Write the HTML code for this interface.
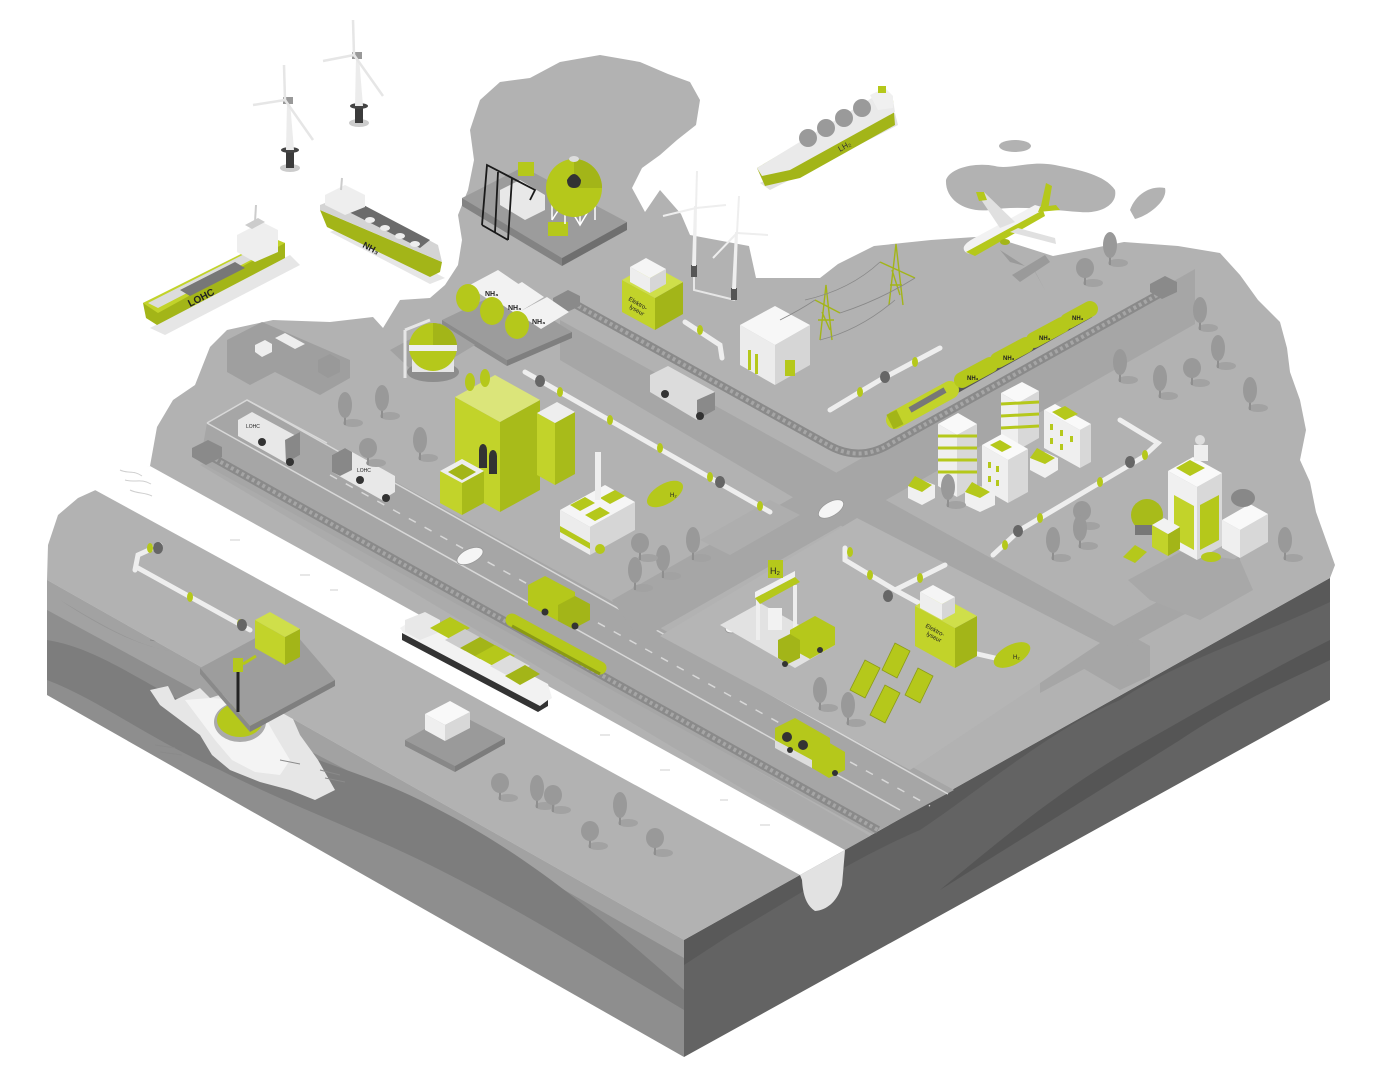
<!DOCTYPE html>
<html><head><meta charset="utf-8"><style>
html,body{margin:0;padding:0;background:#fff;}
svg{display:block;font-family:"Liberation Sans",sans-serif;}
</style></head><body>
<svg width="1384" height="1077" viewBox="0 0 1384 1077" xmlns="http://www.w3.org/2000/svg">
<defs>
<symbol id="tr" overflow="visible">
<ellipse cx="8" cy="-2" rx="10" ry="4" fill="#a2a2a2"/>
<line x1="0" y1="0" x2="0" y2="-10" stroke="#8f8f8f" stroke-width="2"/>
<ellipse cx="0" cy="-20" rx="7" ry="13" fill="#999"/>
</symbol>
<symbol id="tr2" overflow="visible">
<ellipse cx="8" cy="-2" rx="10" ry="4" fill="#a2a2a2"/>
<line x1="0" y1="0" x2="0" y2="-8" stroke="#8f8f8f" stroke-width="2"/>
<ellipse cx="0" cy="-17" rx="9" ry="10" fill="#999"/>
</symbol>
<symbol id="ring" overflow="visible"><ellipse cx="0" cy="0" rx="3" ry="5" fill="#b5c81b"/></symbol>
</defs>

<!-- left face -->
<polygon points="47,580 684,940 684,1057 47,695" fill="#8e8e8e"/>
<polygon points="47,580 684,940 684,958 420,808 250,720 47,610" fill="#a2a2a2"/>
<path d="M47,640 C110,650 160,700 230,720 C300,760 360,770 420,800 C500,840 560,880 684,990 L684,1010 C600,960 520,910 440,870 C360,830 300,810 220,770 C150,740 100,700 47,680Z" fill="#7d7d7d"/>
<path d="M60,600 C120,640 170,660 210,650 C240,660 270,690 330,700 C400,720 500,790 560,820 L560,810 C480,770 420,740 340,710 C290,700 250,670 200,650 C160,660 110,630 60,600Z" fill="#969696"/>
<!-- cavity -->
<polygon points="150,690 168,686 175,700 200,688 210,698 235,690 262,700 290,712 300,735 318,760 335,790 315,800 290,790 260,782 230,770 212,755 200,735 180,720 160,705" fill="#e6e6e6"/>
<polygon points="185,700 210,698 240,700 262,712 275,735 290,760 280,775 255,772 232,760 215,740 200,720" fill="#f4f4f4"/>
<ellipse cx="240" cy="722" rx="26" ry="20" fill="#aaaaaa"/>
<ellipse cx="240" cy="720" rx="23" ry="17" fill="#b5c81b"/>
<g stroke="#8a8a8a" stroke-width="1">
<line x1="155" y1="745" x2="175" y2="748"/><line x1="160" y1="752" x2="182" y2="755"/><line x1="320" y1="770" x2="340" y2="775"/><line x1="325" y1="778" x2="345" y2="782"/><line x1="150" y1="640" x2="170" y2="643"/><line x1="280" y1="760" x2="300" y2="764"/>
</g>

<!-- right face -->
<polygon points="684,940 1330,578 1330,700 684,1057" fill="#636363"/>
<path d="M684,940 L1330,578 L1330,602 C1250,640 1180,660 1120,700 C1050,730 980,790 920,830 C850,860 790,900 730,935 L684,965Z" fill="#595959"/>
<path d="M940,890 C1020,840 1100,790 1180,740 C1240,700 1290,680 1330,660 L1330,640 C1270,670 1200,710 1130,750 C1060,790 1000,840 940,890Z" fill="#555"/>

<!-- top surface land -->
<polygon fill="#b2b2b2" points="47,580 48,545 58,515 78,498 100,488 120,478 150,466 157,427 173,400 195,385 210,347 227,330 273,320 330,322 373,317 383,328 400,300 430,298 445,285 458,265 462,240 458,215 468,190 474,160 470,130 480,100 500,82 530,78 560,62 600,55 640,62 668,74 690,82 700,100 696,125 677,140 660,155 642,168 632,188 645,212 660,190 681,214 690,235 749,246 756,278 820,278 838,264 874,246 931,240 990,236 1053,256 1089,249 1124,242 1178,246 1220,253 1240,275 1258,300 1280,322 1287,348 1290,372 1300,400 1306,430 1300,460 1310,482 1316,512 1326,540 1335,565 1330,578 684,940"/>
<!-- islands -->
<path d="M946,180 C950,168 975,162 995,166 C1010,170 1030,160 1055,165 C1080,170 1105,175 1115,190 C1118,205 1100,214 1080,212 C1050,210 1020,205 990,210 C965,213 945,200 946,180Z" fill="#b2b2b2"/>
<path d="M1130,210 C1135,195 1150,185 1165,188 C1168,200 1150,215 1135,219Z" fill="#b2b2b2"/>
<ellipse cx="1015" cy="146" rx="16" ry="6" fill="#b2b2b2"/>

<!-- river -->
<polygon points="95,490 105,478 150,466 845,850 800,875" fill="#fff"/>
<path d="M800,875 L845,850 L842,885 C838,900 828,910 815,911 C806,905 803,895 802,880Z" fill="#e2e2e2"/>
<g stroke="#cfcfcf" stroke-width="1" fill="none">
<path d="M120,470 c8,4 14,0 22,6 M125,480 c10,3 16,-2 26,4 M130,490 c8,4 14,2 22,6"/>
<path d="M300,575 h10 M330,590 h8 M420,640 h10 M600,735 h10 M660,770 h10 M720,800 h8 M760,825 h10 M230,540 h10"/>
</g>

<!-- strip between rail and river -->
<polygon points="200,465 845,850 870,836 215,458" fill="#ababab"/>
<!-- main road -->
<polygon points="207,423 247,400 954,790 872,834 200,462" fill="#a6a6a6"/>
<g stroke="#d8d8d8" stroke-width="1.5" fill="none">
<line x1="247" y1="400" x2="948" y2="794"/>
<line x1="207" y1="423" x2="900" y2="810"/>
<line x1="330" y1="475" x2="930" y2="806" stroke-dasharray="8 10"/>
<polyline points="207,423 247,400 327,443"/>
</g>
<!-- rail -->
<line x1="210" y1="456" x2="878" y2="830" stroke="#8a8a8a" stroke-width="8"/>
<line x1="210" y1="456" x2="878" y2="830" stroke="#a6a6a6" stroke-width="4" stroke-dasharray="3 3"/>
<polygon points="192,448 208,440 222,447 222,457 206,465 192,457" fill="#8a8a8a"/>

<!-- u-road 2 -->
<polygon points="560,320 1150,646 1150,676 1120,690 560,360" fill="#a6a6a6"/>
<!-- v-road -->
<polygon points="612,600 1195,269 1195,324 640,640" fill="#a6a6a6"/>
<polygon points="1040,667 1240,556 1240,584 1040,693" fill="#a6a6a6"/>
<polygon points="1128,580 1180,552 1240,560 1253,590 1200,620 1150,600" fill="#a8a8a8"/>
<!-- parcel highlights -->
<polygon points="857,518 1100,643 910,770 660,636" fill="#b5b5b5"/>
<polygon points="227,340 262,322 350,360 350,378 320,395 275,372 250,385 227,372" fill="#9f9f9f"/>
<polygon points="442,320 505,290 572,332 507,360" fill="#9c9c9c"/>
<polygon points="442,320 507,360 507,366 442,326" fill="#8a8a8a"/>
<polygon points="507,360 572,332 572,338 507,366" fill="#7f7f7f"/>
<polygon points="390,350 440,323 475,345 420,378" fill="#a2a2a2"/>
<polygon points="700,540 770,500 800,515 730,555" fill="#aeaeae"/>

<!-- upper rail -->
<path d="M573,303 L830,446 Q860,462 890,444 L1170,288" stroke="#8a8a8a" stroke-width="8" fill="none"/>
<path d="M573,303 L830,446 Q860,462 890,444 L1170,288" stroke="#a6a6a6" stroke-width="4" fill="none" stroke-dasharray="3 3"/>
<polygon points="553,298 568,290 580,296 580,306 565,313 553,306" fill="#8a8a8a"/>
<polygon points="1150,284 1165,276 1177,282 1177,292 1162,299 1150,292" fill="#8a8a8a"/>

<!-- port platform -->
<polygon points="462,198 523,167 627,222 562,258" fill="#9c9c9c"/>
<polygon points="462,198 562,258 562,266 462,206" fill="#838383"/>
<polygon points="562,258 627,222 627,230 562,266" fill="#6f6f6f"/>
<polygon points="500,190 520,180 545,195 545,210 525,220 500,205" fill="#e8e8e8"/>
<g stroke="#1a1a1a" stroke-width="1.8" fill="none">
<path d="M482,225 L487,165 L512,178 L508,240 M487,165 L535,190 L530,200 M498,172 L495,232 M482,225 L508,240"/>
</g>
<rect x="518" y="162" width="16" height="14" fill="#b5c81b"/>
<rect x="548" y="222" width="20" height="14" fill="#b5c81b"/>
<g stroke="#fff" stroke-width="1.5"><line x1="552" y1="220" x2="552" y2="200"/><line x1="565" y1="224" x2="565" y2="204"/><line x1="580" y1="225" x2="580" y2="205"/><line x1="595" y1="220" x2="595" y2="200"/><path d="M552,220 L565,200 L580,225 L595,200" fill="none"/></g>
<ellipse cx="574" cy="188" rx="28" ry="29" fill="#b5c81b"/>
<path d="M574,159 A28,29 0 0 1 602,188 L574,188Z" fill="#a3b518"/>
<ellipse cx="574" cy="159" rx="5" ry="3" fill="#ddd"/>
<path d="M567,180 q7,-12 14,0 q0,8 -7,8 q-7,0 -7,-8z" fill="#333"/>

<!-- offshore turbines -->
<g>
<ellipse cx="290" cy="168" rx="10" ry="4" fill="#ccc"/>
<rect x="286" y="150" width="8" height="18" fill="#3b3b3b"/>
<ellipse cx="290" cy="150" rx="9" ry="3" fill="#444"/>
<polygon points="286,150 294,150 290,102 287,102" fill="#ececec"/>
<rect x="283" y="97" width="10" height="7" fill="#999"/>
<line x1="285" y1="100" x2="284" y2="65" stroke="#e6e6e6" stroke-width="2.5"/>
<line x1="285" y1="100" x2="253" y2="105" stroke="#e6e6e6" stroke-width="2.5"/>
<line x1="285" y1="100" x2="313" y2="140" stroke="#e6e6e6" stroke-width="2.5"/>
<ellipse cx="359" cy="123" rx="10" ry="4" fill="#ccc"/>
<rect x="355" y="105" width="8" height="18" fill="#3b3b3b"/>
<ellipse cx="359" cy="106" rx="9" ry="3" fill="#444"/>
<polygon points="355,106 363,106 359,57 356,57" fill="#ececec"/>
<rect x="352" y="52" width="10" height="7" fill="#999"/>
<line x1="354" y1="55" x2="353" y2="20" stroke="#e6e6e6" stroke-width="2.5"/>
<line x1="354" y1="55" x2="323" y2="61" stroke="#e6e6e6" stroke-width="2.5"/>
<line x1="354" y1="55" x2="383" y2="96" stroke="#e6e6e6" stroke-width="2.5"/>
</g>

<!-- LOHC ship -->
<g>
<polygon points="150,328 290,255 300,265 165,335" fill="#e6e6e6"/>
<polygon points="143,303 273,240 285,243 285,258 157,325 146,318" fill="#a3b518"/>
<polygon points="143,303 273,238 285,243 158,313" fill="#c2d32a"/>
<polygon points="148,303 268,242 278,246 158,308" fill="#dcdcdc"/>
<polygon points="180,290 235,262 245,268 190,296" fill="#777"/>
<polygon points="237,235 262,222 278,230 278,252 255,262 237,252" fill="#eee"/>
<polygon points="245,225 258,218 265,222 252,229" fill="#ccc"/>
<line x1="255" y1="222" x2="256" y2="205" stroke="#ccc" stroke-width="2"/>
<text x="190" y="307" font-size="10" font-weight="bold" fill="#222" transform="rotate(-27 190 307)">LOHC</text>
</g>
<!-- NH3 ship -->
<g>
<polygon points="330,232 430,284 445,278 345,226" fill="#e6e6e6"/>
<polygon points="320,210 442,262 440,272 430,277 327,227" fill="#a3b518"/>
<polygon points="320,205 345,195 438,245 442,262 320,210" fill="#d4d4d4"/>
<polygon points="335,205 350,198 430,240 420,248" fill="#6b6b6b"/>
<g fill="#eee"><ellipse cx="370" cy="220" rx="5" ry="3"/><ellipse cx="385" cy="228" rx="5" ry="3"/><ellipse cx="400" cy="236" rx="5" ry="3"/><ellipse cx="415" cy="244" rx="5" ry="3"/></g>
<polygon points="325,195 345,185 365,195 365,207 345,215 325,205" fill="#eee"/>
<line x1="341" y1="190" x2="342" y2="178" stroke="#ccc" stroke-width="2"/>
<text x="362" y="247" font-size="9" font-weight="bold" fill="#222" transform="rotate(27 362 247)">NH₃</text>
</g>
<!-- LH2 ship -->
<g>
<polygon points="760,183 895,113 898,125 770,190" fill="#e2e2e2"/>
<polygon points="757,168 880,95 893,100 895,125 800,178 765,186" fill="#a3b518"/>
<polygon points="757,168 880,93 893,100 895,112 790,170 762,176" fill="#eaeaea"/>
<g fill="#9a9a9a"><circle cx="808" cy="138" r="9"/><circle cx="826" cy="128" r="9"/><circle cx="844" cy="118" r="9"/><circle cx="862" cy="108" r="9"/></g>
<polygon points="870,95 885,88 893,96 893,108 878,110" fill="#f0f0f0"/>
<rect x="878" y="86" width="8" height="7" fill="#b5c81b"/>
<text x="840" y="152" font-size="8" fill="#333" transform="rotate(-30 840 152)">LH₂</text>
</g>

<!-- NH3 tanks -->
<g>
<polygon points="468,286 498,270 520,285 492,302" fill="#f2f2f2"/>
<polygon points="492,298 522,282 544,297 516,314" fill="#f2f2f2"/>
<polygon points="517,313 547,297 569,312 541,329" fill="#f2f2f2"/>
<ellipse cx="468" cy="298" rx="12" ry="14" fill="#b5c81b"/>
<ellipse cx="492" cy="311" rx="12" ry="14" fill="#b5c81b"/>
<ellipse cx="517" cy="325" rx="12" ry="14" fill="#b5c81b"/>
<text x="485" y="296" font-size="7" font-weight="bold" fill="#222">NH₃</text>
<text x="508" y="310" font-size="7" font-weight="bold" fill="#222">NH₃</text>
<text x="532" y="324" font-size="7" font-weight="bold" fill="#222">NH₃</text>
</g>
<!-- sphere tank -->
<g>
<line x1="405" y1="378" x2="405" y2="330" stroke="#e6e6e6" stroke-width="3"/>
<line x1="405" y1="330" x2="430" y2="320" stroke="#e6e6e6" stroke-width="3"/>
<ellipse cx="433" cy="372" rx="26" ry="10" fill="#8d8d8d"/>
<rect x="412" y="350" width="42" height="22" fill="#e6e6e6"/>
<circle cx="433" cy="347" r="24" fill="#b5c81b"/>
<path d="M433,323 A24,24 0 0 1 457,347 L433,347Z" fill="#a3b518"/>
<rect x="409" y="345" width="48" height="6" fill="#eee"/>
</g>

<!-- electrolyser 1 -->
<polygon points="622,312 655,330 655,298 622,280" fill="#c2d32a"/>
<polygon points="655,330 683,314 683,282 655,298" fill="#a3b518"/>
<polygon points="655,298 683,282 650,264 622,280" fill="#cfdf4a"/>
<polygon points="630,282 650,293 650,278 630,267" fill="#eee"/>
<polygon points="650,293 666,284 666,269 650,278" fill="#d6d6d6"/>
<polygon points="630,267 650,278 666,269 646,258" fill="#f5f5f5"/>
<text x="628" y="300" font-size="6" fill="#222" transform="rotate(30 628 300)">Elektro-</text>
<text x="629" y="308" font-size="6" fill="#222" transform="rotate(30 629 308)">lyseur</text>
<!-- land turbines -->
<path d="M694,276 L694,290 L735,300" stroke="#e6e6e6" stroke-width="2" fill="none"/>
<rect x="691" y="265" width="6" height="12" fill="#555"/>
<polygon points="692,266 696,266 697,206 694,206" fill="#efefef"/>
<line x1="696" y1="208" x2="697" y2="171" stroke="#eee" stroke-width="2"/>
<line x1="696" y1="208" x2="663" y2="216" stroke="#eee" stroke-width="2"/>
<line x1="696" y1="208" x2="726" y2="205" stroke="#eee" stroke-width="2"/>
<rect x="731" y="288" width="6" height="12" fill="#555"/>
<polygon points="732,289 736,289 738,232 735,232" fill="#efefef"/>
<line x1="737" y1="233" x2="739" y2="196" stroke="#eee" stroke-width="2"/>
<line x1="737" y1="233" x2="713" y2="258" stroke="#eee" stroke-width="2"/>
<line x1="737" y1="233" x2="768" y2="235" stroke="#eee" stroke-width="2"/>

<!-- white building -->
<polygon points="740,365 775,385 775,345 740,325" fill="#ececec"/>
<polygon points="775,385 810,365 810,325 775,345" fill="#d6d6d6"/>
<polygon points="775,345 810,325 775,306 740,325" fill="#f7f7f7"/>
<rect x="748" y="350" width="3" height="20" fill="#b5c81b"/><rect x="755" y="354" width="3" height="20" fill="#b5c81b"/>
<rect x="785" y="360" width="10" height="16" fill="#b5c81b"/>

<!-- pylons -->
<g stroke="#a3b518" stroke-width="1.4" fill="none">
<path d="M820,340 L826,285 L832,340 M815,300 L840,313 M818,320 L834,320 M822,312 L830,330"/>
<path d="M889,305 L896,244 L903,305 M880,262 L915,278 M890,285 L902,285 M892,270 L900,295"/>
</g>
<g stroke="#888" stroke-width="0.8" fill="none">
<path d="M805,300 Q850,290 880,262 M840,313 Q880,300 915,278 M820,340 Q860,330 895,300 M780,320 Q800,310 815,300"/>
</g>

<!-- plane -->
<g>
<path d="M1012,275 L1045,255 L1050,262 L1020,282 Z M1025,266 L1000,250 L1010,262 Z M1030,262 L1045,290 L1035,272Z" fill="#9a9a9a"/>
<path d="M964,250 C962,245 970,240 980,235 L1035,205 L1045,208 L985,250 C975,255 966,255 964,250Z" fill="#f2f2f2"/>
<path d="M966,252 L1043,210 L1045,216 L975,256Z" fill="#b5c81b"/>
<polygon points="1000,228 976,192 984,192 1015,222" fill="#e0e0e0"/>
<polygon points="976,192 984,192 987,200 979,201" fill="#b5c81b"/>
<polygon points="1010,232 1056,244 1055,238 1018,228" fill="#e0e0e0"/>
<polygon points="1040,210 1046,183 1052,186 1048,210" fill="#b5c81b"/>
<polygon points="1038,212 1060,210 1056,205 1040,207" fill="#b5c81b"/>
<ellipse cx="1005" cy="242" rx="5" ry="3" fill="#a3b518"/>
</g>

<!-- train -->
<g>
<path d="M895,425 L1090,315" stroke="#555" stroke-width="6" stroke-linecap="round"/>
<path d="M895,420 L950,390" stroke="#c2d32a" stroke-width="18" stroke-linecap="round"/>
<path d="M890,422 L900,417" stroke="#a3b518" stroke-width="16"/>
<path d="M910,410 L945,390" stroke="#777" stroke-width="6"/>
<path d="M962,380 L990,365" stroke="#b5c81b" stroke-width="16" stroke-linecap="round"/>
<path d="M998,360 L1026,345" stroke="#b5c81b" stroke-width="16" stroke-linecap="round"/>
<path d="M1034,340 L1062,325" stroke="#b5c81b" stroke-width="16" stroke-linecap="round"/>
<path d="M1068,321 L1090,309" stroke="#b5c81b" stroke-width="16" stroke-linecap="round"/>
<g font-size="6" font-weight="bold" fill="#222"><text x="967" y="380">NH₃</text><text x="1003" y="360">NH₃</text><text x="1039" y="340">NH₃</text><text x="1072" y="320">NH₃</text></g>
</g>

<!-- pipelines -->
<g stroke="#eeeeee" stroke-width="5" fill="none" stroke-linecap="round">
<path d="M525,372 L770,512"/>
<path d="M830,410 L880,380 L940,348"/>
<path d="M993,555 L1020,530 L1143,457 L1158,443 L1120,420"/>
<path d="M845,548 L845,560 L895,590 L945,565 M895,590 L950,620"/>
<path d="M685,322 L720,345 L722,358"/>
<path d="M135,570 L138,555 L160,545 M138,568 L250,630"/>
<path d="M960,650 L995,658"/>
</g>
<g>
<use href="#ring" x="560" y="392"/><use href="#ring" x="610" y="420"/><use href="#ring" x="660" y="448"/><use href="#ring" x="710" y="477"/><use href="#ring" x="760" y="506"/>
<use href="#ring" x="860" y="392"/><use href="#ring" x="915" y="362"/>
<use href="#ring" x="1040" y="518"/><use href="#ring" x="1100" y="482"/><use href="#ring" x="1145" y="455"/><use href="#ring" x="1005" y="545"/>
<use href="#ring" x="870" y="575"/><use href="#ring" x="920" y="578"/><use href="#ring" x="850" y="552"/>
<use href="#ring" x="150" y="548"/><use href="#ring" x="190" y="597"/><use href="#ring" x="240" y="624"/>
<use href="#ring" x="700" y="330"/>
</g>
<g fill="#666"><ellipse cx="540" cy="381" rx="5" ry="6"/><ellipse cx="720" cy="482" rx="5" ry="6"/><ellipse cx="885" cy="377" rx="5" ry="6"/><ellipse cx="1130" cy="462" rx="5" ry="6"/><ellipse cx="1018" cy="531" rx="5" ry="6"/><ellipse cx="888" cy="596" rx="5" ry="6"/><ellipse cx="158" cy="548" rx="5" ry="6"/><ellipse cx="242" cy="625" rx="5" ry="6"/></g>

<!-- big green building -->
<polygon points="455,487 500,512 500,422 455,397" fill="#c2d32a"/>
<polygon points="500,512 540,490 540,400 500,422" fill="#a8bb1a"/>
<polygon points="500,422 540,400 495,375 455,397" fill="#dbe57a"/>
<g fill="#333"><ellipse cx="483" cy="450" rx="4" ry="6"/><ellipse cx="493" cy="456" rx="4" ry="6"/><rect x="479" y="450" width="8" height="18"/><rect x="489" y="456" width="8" height="18"/></g>
<polygon points="537,475 555,485 555,423 537,413" fill="#c2d32a"/>
<polygon points="555,485 575,474 575,412 555,423" fill="#a8bb1a"/>
<polygon points="555,423 575,412 557,402 537,413" fill="#eee"/>
<polygon points="440,503 462,515 462,483 440,471" fill="#c2d32a"/>
<polygon points="462,515 484,503 484,471 462,483" fill="#a8bb1a"/>
<polygon points="462,483 484,471 462,459 440,471" fill="#eee"/>
<polygon points="448,472 462,480 476,472 462,464" fill="#a3b518"/>
<ellipse cx="470" cy="382" rx="5" ry="9" fill="#b5c81b"/><ellipse cx="485" cy="378" rx="5" ry="9" fill="#b5c81b"/>

<!-- factory -->
<polygon points="560,538 590,555 590,527 560,510" fill="#ececec"/>
<polygon points="590,555 635,530 635,502 590,527" fill="#d6d6d6"/>
<polygon points="590,527 635,502 605,485 560,510" fill="#f5f5f5"/>
<polygon points="560,532 590,549 590,543 560,526" fill="#b5c81b"/>
<polygon points="570,505 585,497 595,503 580,511" fill="#b5c81b"/><polygon points="585,515 600,507 610,513 595,521" fill="#b5c81b"/><polygon points="600,498 615,490 625,496 610,504" fill="#b5c81b"/>
<rect x="595" y="452" width="6" height="48" fill="#eee"/>
<circle cx="600" cy="549" r="5" fill="#b5c81b"/>
<ellipse cx="665" cy="494" rx="20" ry="10" fill="#b5c81b" transform="rotate(-30 665 494)"/>
<text x="670" y="497" font-size="6" fill="#222">H₂</text>

<!-- trucks on road -->
<g>
<polygon points="238,420 252,412 300,438 300,455 286,463 238,436" fill="#e8e8e8"/>
<polygon points="285,440 300,432 300,455 286,463" fill="#888"/>
<circle cx="262" cy="442" r="4" fill="#333"/><circle cx="290" cy="462" r="4" fill="#333"/>
<text x="246" y="428" font-size="5" fill="#222">LOHC</text>
<polygon points="332,455 345,448 395,476 395,492 382,500 332,472" fill="#e8e8e8"/>
<polygon points="332,455 345,448 352,452 352,470 340,476 332,472" fill="#888"/>
<circle cx="360" cy="480" r="4" fill="#333"/><circle cx="386" cy="498" r="4" fill="#333"/>
<text x="357" y="472" font-size="5" fill="#222">LOHC</text>
<polygon points="650,375 668,366 715,392 715,410 697,420 650,392" fill="#dcdcdc"/>
<polygon points="697,400 715,392 715,410 697,420" fill="#8a8a8a"/>
<circle cx="665" cy="394" r="4" fill="#333"/><circle cx="700" cy="416" r="4" fill="#333"/>
<polygon points="528,585 545,576 575,592 575,612 558,621 528,605" fill="#b5c81b"/>
<polygon points="558,605 575,596 590,604 590,620 573,629 558,621" fill="#a3b518"/>
<circle cx="545" cy="612" r="3.5" fill="#333"/><circle cx="575" cy="626" r="3.5" fill="#333"/>
<path d="M512,620 L600,668" stroke="#b5c81b" stroke-width="13" stroke-linecap="round"/>
<path d="M512,626 L600,674" stroke="#8a9a15" stroke-width="3"/>
<polygon points="775,728 795,718 830,738 830,755 812,765 775,745" fill="#b5c81b"/>
<polygon points="812,750 828,742 845,752 845,770 829,778 812,768" fill="#b5c81b"/>
<polygon points="775,740 812,760 812,768 775,748" fill="#ddd"/>
<circle cx="787" cy="737" r="5" fill="#333"/><circle cx="803" cy="745" r="5" fill="#333"/>
<circle cx="790" cy="750" r="3" fill="#333"/><circle cx="835" cy="773" r="3" fill="#333"/>
<ellipse cx="470" cy="556" rx="14" ry="7" fill="#f5f5f5" stroke="#999" stroke-width="0.8" transform="rotate(-25 470 556)"/>
<ellipse cx="831" cy="509" rx="14" ry="7" fill="#f5f5f5" stroke="#999" stroke-width="0.8" transform="rotate(-30 831 509)"/>
<ellipse cx="737" cy="624" rx="13" ry="7" fill="#f5f5f5" stroke="#999" stroke-width="0.8" transform="rotate(-30 737 624)"/>
</g>

<!-- container barge -->
<g>
<polygon points="400,628 420,615 548,684 552,698 540,706 405,635" fill="#f2f2f2"/>
<polygon points="402,633 540,706 548,700 548,706 538,712 402,640" fill="#333"/>
<polygon points="405,620 425,612 440,620 440,632 420,640 405,632" fill="#e8e8e8"/>
<polygon points="430,628 450,617 470,628 450,639" fill="#b5c81b"/>
<polygon points="445,640 465,629 485,640 465,651" fill="#ccc"/>
<polygon points="460,648 480,637 500,648 480,659" fill="#a3b518"/>
<polygon points="475,656 495,645 515,656 495,667" fill="#b5c81b"/>
<polygon points="490,666 510,655 530,666 510,677" fill="#ddd"/>
<polygon points="505,676 525,665 540,674 520,685" fill="#a3b518"/>
</g>

<!-- H2 station -->
<polygon points="720,625 760,603 835,645 795,668" fill="#e2e2e2"/>
<rect x="756" y="595" width="4" height="45" fill="#eee"/>
<rect x="793" y="585" width="4" height="45" fill="#eee"/>
<polygon points="755,598 795,577 800,582 760,604" fill="#b5c81b"/>
<polygon points="755,592 795,571 795,577 755,598" fill="#f0f0f0"/>
<rect x="768" y="560" width="15" height="18" fill="#b5c81b"/>
<text x="770" y="574" font-size="9" fill="#222">H₂</text>
<rect x="768" y="608" width="14" height="22" fill="#f2f2f2"/>
<polygon points="790,630 815,616 835,627 835,645 810,659 790,648" fill="#b5c81b"/>
<polygon points="778,640 790,634 800,640 800,658 788,664 778,658" fill="#a3b518"/>
<circle cx="785" cy="664" r="3" fill="#333"/><circle cx="820" cy="650" r="3" fill="#333"/>

<!-- solar panels -->
<g fill="#b5c81b" stroke="#8a9a15" stroke-width="0.8">
<polygon points="850,690 865,660 880,668 865,698"/>
<polygon points="870,715 885,685 900,693 885,723"/>
<polygon points="882,670 895,643 910,651 897,678"/>
<polygon points="905,695 918,668 933,676 920,703"/>
</g>
<!-- electrolyser 2 -->
<polygon points="915,646 955,668 955,628 915,606" fill="#c2d32a"/>
<polygon points="955,668 977,656 977,616 955,628" fill="#a3b518"/>
<polygon points="955,628 977,616 937,594 915,606" fill="#cfdf4a"/>
<polygon points="920,608 942,620 942,604 920,592" fill="#eee"/>
<polygon points="942,620 955,613 955,597 942,604" fill="#d6d6d6"/>
<polygon points="920,592 942,604 955,597 933,585" fill="#f5f5f5"/>
<text x="925" y="627" font-size="6" fill="#222" transform="rotate(28 925 627)">Elektro-</text>
<text x="926" y="635" font-size="6" fill="#222" transform="rotate(28 926 635)">lyseur</text>
<ellipse cx="1012" cy="655" rx="20" ry="10" fill="#b5c81b" transform="rotate(-28 1012 655)"/>
<text x="1013" y="659" font-size="6" fill="#222">H₂</text>

<!-- city -->
<polygon points="938,486 957,497 957,435 938,424" fill="#efefef"/>
<polygon points="957,497 977,486 977,424 957,435" fill="#d8d8d8"/>
<polygon points="957,435 977,424 958,413 938,424" fill="#f9f9f9"/>
<g stroke="#b5c81b" stroke-width="3"><line x1="938" y1="436" x2="977" y2="436"/><line x1="938" y1="448" x2="977" y2="448"/><line x1="938" y1="460" x2="977" y2="460"/><line x1="938" y1="472" x2="977" y2="472"/></g>
<polygon points="1001,440 1018,450 1018,403 1001,393" fill="#efefef"/>
<polygon points="1018,450 1039,438 1039,391 1018,403" fill="#d8d8d8"/>
<polygon points="1018,403 1039,391 1022,382 1001,393" fill="#f9f9f9"/>
<g stroke="#b5c81b" stroke-width="3"><line x1="1001" y1="404" x2="1039" y2="402"/><line x1="1001" y1="416" x2="1039" y2="414"/><line x1="1001" y1="428" x2="1039" y2="426"/></g>
<polygon points="982,488 1008,503 1008,460 982,445" fill="#efefef"/>
<polygon points="1008,503 1028,492 1028,449 1008,460" fill="#d8d8d8"/>
<polygon points="1008,460 1028,449 1002,434 982,445" fill="#f9f9f9"/>
<polygon points="990,445 1000,440 1012,447 1002,452" fill="#b5c81b"/>
<polygon points="1044,448 1080,468 1080,430 1044,410" fill="#efefef"/>
<polygon points="1080,468 1091,462 1091,424 1080,430" fill="#d8d8d8"/>
<polygon points="1080,430 1091,424 1055,404 1044,410" fill="#f9f9f9"/>
<polygon points="1052,412 1065,406 1078,414 1065,420" fill="#b5c81b"/>
<g fill="#b5c81b"><rect x="988" y="462" width="3" height="6"/><rect x="996" y="466" width="3" height="6"/><rect x="988" y="476" width="3" height="6"/><rect x="996" y="480" width="3" height="6"/><rect x="1050" y="424" width="3" height="6"/><rect x="1060" y="430" width="3" height="6"/><rect x="1070" y="436" width="3" height="6"/><rect x="1050" y="438" width="3" height="6"/><rect x="1060" y="444" width="3" height="6"/></g>
<g>
<polygon points="908,498 922,505 935,498 935,485 922,480 908,486" fill="#f0f0f0"/><polygon points="908,486 915,476 932,485 922,492" fill="#b5c81b"/>
<polygon points="965,505 980,512 995,505 995,492 980,486 965,492" fill="#f0f0f0"/><polygon points="965,492 972,482 990,492 980,498" fill="#b5c81b"/>
<polygon points="1030,470 1045,478 1058,470 1058,458 1045,452 1030,458" fill="#f0f0f0"/><polygon points="1030,458 1037,448 1055,458 1045,464" fill="#b5c81b"/>
</g>
<circle cx="1147" cy="515" r="16" fill="#a8bb1a"/>
<polygon points="1135,525 1160,525 1160,535 1135,535" fill="#777"/>
<polygon points="1168,544 1197,560 1197,487 1168,471" fill="#f0f0f0"/>
<polygon points="1197,560 1222,546 1222,473 1197,487" fill="#d8d8d8"/>
<polygon points="1197,487 1222,473 1193,457 1168,471" fill="#f9f9f9"/>
<polygon points="1174,495 1194,506 1194,550 1174,539" fill="#c2d32a"/>
<polygon points="1200,505 1219,495 1219,540 1200,550" fill="#b5c81b"/>
<polygon points="1176,468 1190,460 1205,468 1190,476" fill="#b5c81b"/>
<rect x="1194" y="445" width="14" height="16" fill="#eee"/>
<circle cx="1200" cy="440" r="5" fill="#ddd"/>
<polygon points="1222,548 1240,558 1240,530 1222,520" fill="#efefef"/>
<polygon points="1240,558 1268,542 1268,514 1240,530" fill="#d8d8d8"/>
<polygon points="1240,530 1268,514 1250,504 1222,520" fill="#f9f9f9"/>
<ellipse cx="1243" cy="498" rx="12" ry="9" fill="#888"/>
<polygon points="1152,547 1168,556 1168,534 1152,525" fill="#c2d32a"/>
<polygon points="1168,556 1180,549 1180,527 1168,534" fill="#a3b518"/>
<polygon points="1168,534 1180,527 1164,518 1152,525" fill="#f2f2f2"/>
<ellipse cx="1211" cy="557" rx="10" ry="5" fill="#b5c81b"/>
<polygon points="1123,557 1135,545 1147,552 1135,563" fill="#b5c81b"/>

<polygon points="255,345 265,340 272,344 272,352 262,357 255,352" fill="#eee"/>
<polygon points="275,338 285,333 305,344 295,349" fill="#eee"/>
<polygon points="318,360 330,354 340,360 340,372 328,378 318,372" fill="#999"/>

<!-- lower land objects -->
<polygon points="200,668 285,622 335,680 250,726" fill="#9d9d9d"/>
<polygon points="200,668 250,726 250,732 200,674" fill="#8a8a8a"/>
<polygon points="250,726 335,680 335,686 250,732" fill="#7f7f7f"/>
<polygon points="255,648 285,665 285,637 255,620" fill="#c2d32a"/>
<polygon points="285,665 300,657 300,629 285,637" fill="#a3b518"/>
<polygon points="285,637 300,629 270,612 255,620" fill="#cfdf4a"/>
<line x1="238" y1="668" x2="238" y2="712" stroke="#222" stroke-width="3"/>
<rect x="233" y="658" width="10" height="14" fill="#b5c81b"/>
<line x1="243" y1="664" x2="256" y2="656" stroke="#b5c81b" stroke-width="3"/>
<polygon points="405,740 455,712 505,738 455,766" fill="#9a9a9a"/>
<polygon points="405,740 455,766 455,772 405,746" fill="#888"/>
<polygon points="455,766 505,738 505,744 455,772" fill="#7c7c7c"/>
<polygon points="425,730 445,741 445,725 425,714" fill="#efefef"/>
<polygon points="445,741 470,728 470,712 445,725" fill="#d8d8d8"/>
<polygon points="445,725 470,712 450,701 425,714" fill="#f9f9f9"/>

<!-- trees -->
<g>
<use href="#tr" x="345" y="425"/><use href="#tr" x="382" y="418"/><use href="#tr" x="420" y="460"/><use href="#tr2" x="368" y="465"/>
<use href="#tr" x="635" y="590"/><use href="#tr" x="663" y="578"/><use href="#tr" x="693" y="560"/><use href="#tr2" x="640" y="560"/>
<use href="#tr" x="820" y="710"/><use href="#tr" x="848" y="725"/>
<use href="#tr" x="948" y="507"/><use href="#tr2" x="1082" y="528"/><use href="#tr" x="1053" y="560"/><use href="#tr" x="1080" y="548"/>
<use href="#tr" x="1120" y="382"/><use href="#tr" x="1160" y="398"/><use href="#tr2" x="1192" y="385"/><use href="#tr" x="1218" y="368"/><use href="#tr" x="1200" y="330"/><use href="#tr" x="1110" y="265"/><use href="#tr2" x="1085" y="285"/><use href="#tr" x="1285" y="560"/><use href="#tr" x="1250" y="410"/>
<use href="#tr2" x="500" y="800"/><use href="#tr" x="537" y="808"/><use href="#tr2" x="553" y="812"/><use href="#tr" x="620" y="825"/><use href="#tr2" x="590" y="848"/><use href="#tr2" x="655" y="855"/>
</g>
</svg>
</body></html>
